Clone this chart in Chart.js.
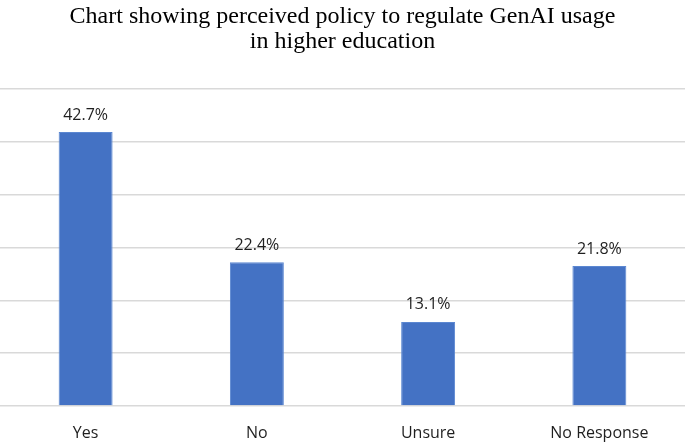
<!DOCTYPE html>
<html>
<head>
<meta charset="utf-8">
<script src="https://cdn.jsdelivr.net/npm/chart.js@4"></script>
<style>
html,body{margin:0;padding:0;background:#fff;}
#wrap{width:685px;height:442px;position:relative;}
</style>
</head>
<body>
<div id="wrap"><canvas id="c"></canvas></div>
<script>
const categories = ["Yes", "No", "Unsure", "No Response"];
const percentages = [42.7, 22.4, 13.1, 21.8];
const titleLines = ["Chart showing perceived policy to regulate GenAI usage", "in higher education"];
const axisMax = 49.4;
const gridStep = 49.4 / 6;

const labelPlugin = {
  id: 'barLabels',
  afterDatasetsDraw(chart) {
    const ctx = chart.ctx;
    const meta = chart.getDatasetMeta(0);
    ctx.save();
    ctx.font = '16px "Open Sans", "Liberation Sans", sans-serif';
    ctx.fillStyle = '#1f1f1f';
    ctx.textAlign = 'center';
    ctx.textBaseline = 'bottom';
    meta.data.forEach((bar, i) => {
      ctx.fillText(percentages[i].toFixed(1) + '%', bar.x, bar.y - 9);
    });
    ctx.restore();
  }
};

new Chart(document.getElementById('c'), {
  type: 'bar',
  data: {
    labels: categories,
    datasets: [{
      data: percentages,
      backgroundColor: '#4472C4',
      borderColor: '#5b87d1',
      borderWidth: 1,
      categoryPercentage: 1,
      barPercentage: 0.315
    }]
  },
  options: {
    responsive: true,
    maintainAspectRatio: false,
    animation: false,
    layout: { padding: { top: 0, left: 0, right: 0, bottom: 0 } },
    plugins: {
      legend: { display: false },
      tooltip: { enabled: false },
      title: {
        display: true,
        text: titleLines,
        color: '#000',
        font: { family: '"Liberation Serif", "Times New Roman", serif', size: 24, weight: 'normal', lineHeight: 1.05 },
        padding: { top: 4, bottom: 34.6 }
      }
    },
    scales: {
      x: {
        grid: { display: false },
        border: { display: false },
        afterFit(scale) { scale.height = 36; },
        ticks: {
          color: '#1f1f1f',
          font: { family: '"Open Sans", "Liberation Sans", sans-serif', size: 16 },
          padding: 10
        }
      },
      y: {
        min: 0,
        max: axisMax,
        ticks: { display: false, stepSize: gridStep },
        border: { display: false },
        grid: { color: '#d9d9d9', lineWidth: 1.5, drawTicks: false }
      }
    }
  },
  plugins: [labelPlugin]
});
</script>
</body>
</html>
